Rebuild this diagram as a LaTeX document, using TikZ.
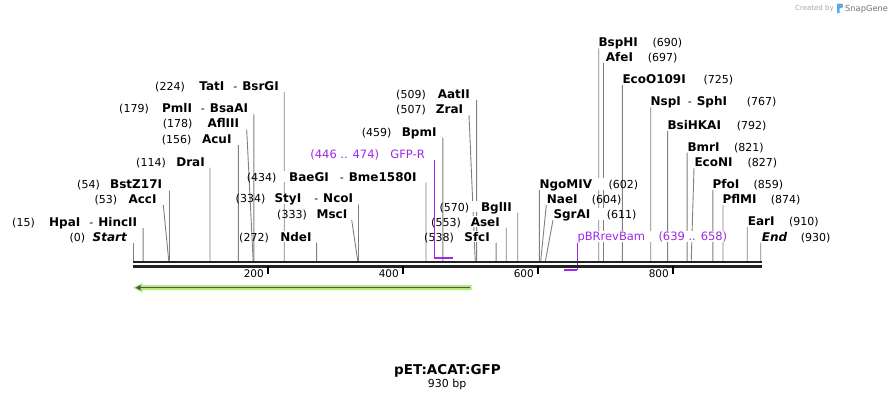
\documentclass[tikz,border=0pt]{standalone}
\usepackage{fontspec}
\setmainfont{DejaVu Sans}
\usetikzlibrary{calc}
\pgfdeclarelayer{background}
\pgfdeclarelayer{labelbg}
\pgfsetlayers{background,labelbg,main}
\definecolor{leadgray}{RGB}{128,128,128}
\definecolor{bbone}{RGB}{34,34,34}
\definecolor{primer}{RGB}{160,40,230}
\definecolor{featgreen}{RGB}{182,232,122}
\definecolor{featdark}{RGB}{85,85,85}
\definecolor{logoblue}{RGB}{90,170,230}
\tikzset{
  leader/.style={draw=leadgray, line width=0.9pt},
  namelab/.style={font=\fontsize{12}{14}\selectfont\bfseries, inner sep=0pt, text depth=0pt},
  numlab/.style={font=\fontsize{11}{13}\selectfont, inner sep=0pt},
  featlab/.style={font=\fontsize{11.5}{13}\selectfont, text=primer, inner sep=0pt, text depth=0pt},
  primerlead/.style={draw=primer, line width=1pt},
  primerbar/.style={draw=primer, line width=2pt},
  ticklab/.style={font=\fontsize{10.5}{12}\selectfont, inner sep=0pt},
}
\newcommand\dbl[3][9pt]{#2\hspace{#1}{\mdseries\fontsize{11}{13}\selectfont -}\hspace{5pt}#3}
% #1 id, #2 bp, #3 text y, #4 name end x, #5 leader top x, #6 name, #7 number, #8 number end x
\newcommand\leftsite[8]{%
  \coordinate (s#1) at ({133+0.675*#2},261);
  \coordinate (t#1) at (#5,#3+6);
  \begin{pgfonlayer}{background}\draw[leader] (t#1) -- (s#1);\end{pgfonlayer}
  \node[namelab, anchor=base east] (n#1) at (#4,#3+4.4) {#6};
  \node[numlab, anchor=base east] (m#1) at (#8,#3+4.4) {#7};
  \coordinate (b#1) at (m#1.east |- n#1.north);
  \begin{pgfonlayer}{labelbg}\fill[white] ($(b#1)+(0,-1)$) rectangle ($(n#1.south east)+(0,1)$);\end{pgfonlayer}
}
% #1 id, #2 bp, #3 text y, #4 name start x, #5 leader top x, #6 name, #7 number, #8 number start x
\newcommand\rightsite[8]{%
  \coordinate (s#1) at ({133+0.675*#2},261);
  \coordinate (t#1) at (#5,#3+6);
  \begin{pgfonlayer}{background}\draw[leader] (t#1) -- (s#1);\end{pgfonlayer}
  \node[namelab, anchor=base west] (n#1) at (#4,#3+4.4) {#6};
  \node[numlab, anchor=base west] (m#1) at (#8,#3+4.4) {#7};
  \coordinate (b#1) at (m#1.west |- n#1.south);
  \begin{pgfonlayer}{labelbg}\fill[white] ($(n#1.north west)+(0,-1)$) rectangle ($(b#1)+(0,1)$);\end{pgfonlayer}
}
\begin{document}
\begin{tikzpicture}[x=1pt,y=-1pt]
\useasboundingbox (0,0) rectangle (895,400);
\begin{pgfonlayer}{background}\fill[white] (0,0) rectangle (895,400);\end{pgfonlayer}

% left-hand labels
\leftsite{0}{0}{237}{127}{133}{\itshape Start}{(0)}{85.3}
\leftsite{15}{15}{222}{137.3}{143.125}{\dbl{HpaI}{HincII}}{(15)}{35}
\leftsite{53}{53}{199}{156.7}{163.3}{AccI}{(53)}{117.3}
\leftsite{54}{54}{184.5}{162.3}{169.45}{BstZ17I}{(54)}{100}
\leftsite{114}{114}{161.7}{205}{209.95}{DraI}{(114)}{166}
\leftsite{156}{156}{139}{231.7}{238.3}{AcuI}{(156)}{191.7}
\leftsite{178}{178}{123.3}{239.3}{246.7}{AflIII}{(178)}{192.7}
\leftsite{179}{179}{108.3}{248.3}{253.825}{\dbl{PmlI}{BsaAI}}{(179)}{149}
\leftsite{224}{224}{86}{279}{284.2}{\dbl{TatI}{BsrGI}}{(224)}{185}
\leftsite{272}{272}{236.7}{311.7}{316.6}{NdeI}{(272)}{269}
\leftsite{333}{333}{214}{347.5}{351.7}{MscI}{(333)}{307}
\leftsite{334}{334}{198.3}{353.3}{358.45}{\dbl[13pt]{StyI}{NcoI}}{(334)}{265.5}
\leftsite{434}{434}{176.7}{416.7}{425.95}{\dbl[11pt]{BaeGI}{Bme1580I}}{(434)}{276.7}
\leftsite{459}{459}{131.7}{436.7}{442.825}{BpmI}{(459)}{391.7}
\leftsite{507}{507}{109}{463.3}{469}{ZraI}{(507)}{426}
\leftsite{509}{509}{94}{470}{476.575}{AatII}{(509)}{426}
\leftsite{538}{538}{236.7}{490}{496.15}{SfcI}{(538)}{454}
\leftsite{553}{553}{221.7}{500}{506.275}{AseI}{(553)}{461}
\leftsite{570}{570}{206.7}{512}{517.75}{BglII}{(570)}{469.3}

% right-hand labels
\rightsite{602}{602}{184}{539.3}{539.35}{NgoMIV}{(602)}{608.3}
\rightsite{604}{604}{199}{546.7}{546.3}{NaeI}{(604)}{591.7}
\rightsite{611}{611}{214}{553.3}{553}{SgrAI}{(611)}{606.7}
\rightsite{690}{690}{42.3}{598.3}{598.75}{BspHI}{(690)}{652.3}
\rightsite{697}{697}{56.7}{605.7}{603.475}{AfeI}{(697)}{647.7}
\rightsite{725}{725}{79}{622.3}{622.375}{EcoO109I}{(725)}{703.3}
\rightsite{767}{767}{101.3}{650.4}{650.725}{\dbl[7pt]{NspI}{SphI}}{(767)}{746.7}
\rightsite{792}{792}{125}{667.3}{667.6}{BsiHKAI}{(792)}{736.7}
\rightsite{821}{821}{146.7}{687.3}{687.175}{BmrI}{(821)}{734}
\rightsite{827}{827}{162}{694.3}{694}{EcoNI}{(827)}{747.3}
\rightsite{859}{859}{184}{712.3}{712.825}{PfoI}{(859)}{753.3}
\rightsite{874}{874}{199}{722.3}{722.95}{PflMI}{(874)}{770.7}
\rightsite{910}{910}{221}{747.7}{747.25}{EarI}{(910)}{789}
\rightsite{930}{930}{236.7}{761.7}{760.75}{\itshape End}{(930)}{800.7}

% primer GFP-R (446 .. 474)
\node[featlab, anchor=base east] (gfpn) at (425,158.2) {GFP-R};
\node[featlab, anchor=base east] (gfpm) at (379.3,158.2) {(446 .. 474)};
\begin{pgfonlayer}{labelbg}\fill[white] ($(gfpm.north west)+(0,-1)$) rectangle ($(gfpn.south east)+(0,1)$);\end{pgfonlayer}
\coordinate (gfpt) at (434,160);
\coordinate (gfpa) at (434,258);
\coordinate (gfpb) at (453,258);
\draw[primerlead] (gfpt) -- (gfpa);
\draw[primerbar] (gfpa) -- (gfpb);

% primer pBRrevBam (639 .. 658)
\node[featlab, anchor=base west] (pbrn) at (577.3,240.9) {pBRrevBam};
\node[featlab, anchor=base west] (pbrm) at (658.3,240.9) {(639 .. 658)};
\begin{pgfonlayer}{labelbg}\fill[white] ($(pbrn.north west)+(0,-1)$) rectangle ($(pbrm.south east)+(0,1)$);\end{pgfonlayer}
\coordinate (pbrt) at (577.2,242.7);
\coordinate (pbra) at (577.2,270);
\coordinate (pbrb) at (564.3,270);
\begin{pgfonlayer}{background}
\draw[primerlead] (pbrt) -- (pbra);
\draw[primerbar] (pbra) -- (pbrb);
\end{pgfonlayer}

% backbone
\draw[bbone, line width=2.6pt] (133,262) -- (761.5,262);
\draw[bbone, line width=2.6pt] (133,266.4) -- (761.5,266.4);
\foreach \k in {200,400,600,800}{
  \draw[black, line width=2pt] ({133+0.675*\k},266) -- ({133+0.675*\k},274.3);
  \node[ticklab, anchor=base east] (tk\k) at ({133+0.675*\k-4},277.8) {\k};
}

% feature arrow
\fill[featgreen] (133,287.7) -- (142.5,282.9) -- (142.5,285.2) -- (471.7,285.2) -- (471.7,290.2) -- (142.5,290.2) -- (142.5,292.5) -- cycle;
\draw[featdark, line width=1.4pt] (139,287.7) -- (470,287.7);
\fill[featdark] (135.5,287.7) -- (140.5,285) -- (140.5,290.4) -- cycle;

% title
\node[font=\fontsize{13.5}{16}\selectfont\bfseries, anchor=base, inner sep=0pt] (title) at (447.5,374.2) {pET:ACAT:GFP};
\node[font=\fontsize{11}{13}\selectfont, anchor=base, inner sep=0pt] (len) at (447.2,387.3) {930 bp};

% watermark
\node[font=\fontsize{7}{8}\selectfont, text=black!35, anchor=base west, inner sep=0pt] (wm1) at (795,10.5) {Created by};
\fill[logoblue] (837,3.5) -- (841.5,3.5) .. controls (843.5,3.5) and (843.5,8) .. (841.5,8) -- (839.5,8) -- (839.5,13) -- (837,13) -- cycle;
\node[font=\fontsize{8.3}{9}\selectfont, text=black!55, anchor=base west, inner sep=0pt] (wm2) at (845,11) {SnapGene};
\end{tikzpicture}
\end{document}
